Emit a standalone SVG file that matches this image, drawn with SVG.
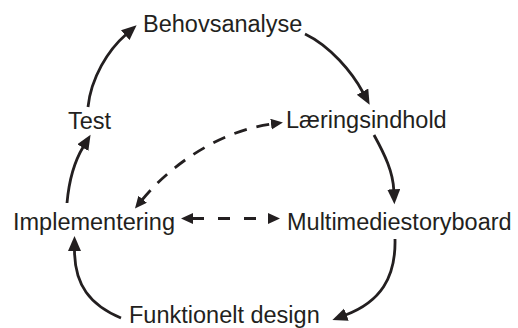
<svg xmlns="http://www.w3.org/2000/svg" width="518" height="328" viewBox="0 0 518 328">
  <style>
    .label { font-family: "Liberation Sans", Arial, sans-serif; font-size: 23.5px; fill: #231f20; }
    .flow { fill: none; stroke: #231f20; stroke-width: 2.8; marker-end: url(#head); }
    .link { fill: none; stroke: #231f20; stroke-width: 2.8; marker-start: url(#headSmall); marker-end: url(#headSmall); }
  </style>
  <defs>
    <marker id="head" markerUnits="userSpaceOnUse" markerWidth="16" markerHeight="14" refX="1" refY="6.5" orient="auto">
      <path d="M0,0 L15,6.5 L0,13 z" fill="#231f20"/>
    </marker>
    <marker id="headSmall" markerUnits="userSpaceOnUse" markerWidth="13" markerHeight="12" refX="1" refY="5.5" orient="auto-start-reverse">
      <path d="M0,0 L12,5.5 L0,11 z" fill="#231f20"/>
    </marker>
  </defs>
  <rect width="518" height="328" fill="#ffffff"/>

  <g id="connectors">
    <!-- main cycle -->
    <path class="flow" d="M88,107 C91,78 108,50 126,34.5"/>
    <path class="flow" d="M305,34 C330,46 352,72 363,92.5"/>
    <path class="flow" d="M374,135 C385,155 393,172 393.8,190.3"/>
    <path class="flow" d="M395,239 C396,278 380,302 345.5,315"/>
    <path class="flow" d="M121,318 C90,305 74.5,285 74.5,250"/>
    <path class="flow" d="M67,203 C69,180 74,162 83.3,146.7"/>
    <!-- two-way dashed links -->
    <path class="link" d="M142,200 C175,160 225,130 272,124" stroke-dasharray="13 10"/>
    <path class="link" d="M192,218.5 L269,218.5" stroke-dasharray="12 14"/>
  </g>

  <g id="behovsanalyse"><text class="label" x="143" y="32">Behovsanalyse</text></g>
  <g id="laeringsindhold"><text class="label" x="286" y="128">Læringsindhold</text></g>
  <g id="multimediestoryboard"><text class="label" x="287" y="230">Multimediestoryboard</text></g>
  <g id="funktionelt-design"><text class="label" x="129" y="322.5">Funktionelt design</text></g>
  <g id="implementering"><text class="label" x="13" y="230">Implementering</text></g>
  <g id="test"><text class="label" x="68" y="129">Test</text></g>
</svg>
